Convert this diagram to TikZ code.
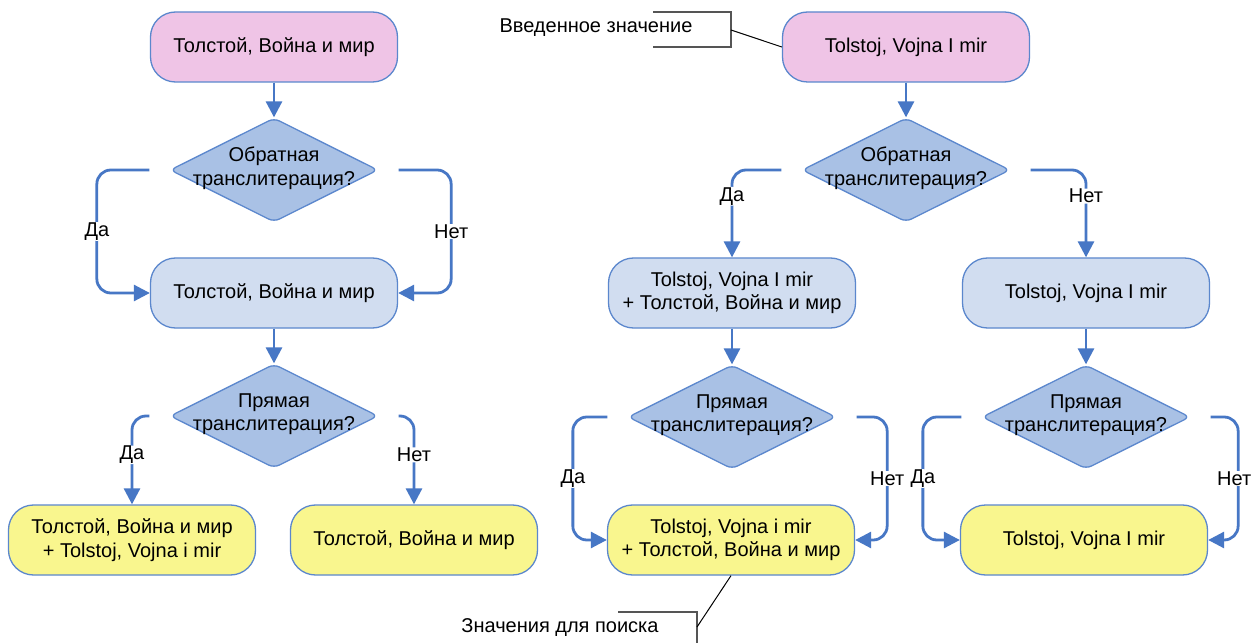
\documentclass[tikz,border=0pt]{standalone}
\usepackage{fontspec}
\setmainfont{Liberation Sans}
\usetikzlibrary{arrows.meta,shapes.geometric,calc}
\definecolor{pinkc}{HTML}{EFC4E6}
\definecolor{bordc}{HTML}{5B87CD}
\definecolor{lbluec}{HTML}{D1DDF0}
\definecolor{diac}{HTML}{A9C1E5}
\definecolor{yelc}{HTML}{F9F68E}
\definecolor{arrc}{HTML}{4777C5}
\definecolor{brc}{HTML}{555555}
\newcommand{\txtfont}{\fontsize{20bp}{23.5bp}\selectfont}
\begin{document}
\begin{tikzpicture}[x=1bp,y=-1bp,
  box/.style={rounded corners=25bp, draw=bordc, line width=1.3bp, minimum width=247bp, minimum height=70bp, inner sep=0pt, align=center, font=\txtfont},
  pinkbox/.style={box, fill=pinkc},
  bluebox/.style={box, fill=lbluec},
  yelbox/.style={box, fill=yelc},
  dia/.style={diamond, draw=bordc, fill=diac, line width=1.3bp, minimum width=208bp, minimum height=104bp, inner sep=0pt, rounded corners=6bp},
  diatext/.style={align=center, font=\txtfont, inner sep=0pt},
  conn/.style={draw=arrc, line width=2.8bp, -{Triangle[length=16bp,width=16bp]}, rounded corners=14bp},
  lab/.style={fill=white, inner sep=0.5bp, font=\txtfont},
  bracket/.style={draw=brc, line width=2bp},
  leader/.style={draw=black, line width=1bp},
  calltext/.style={font=\txtfont, inner sep=0pt}
]
\useasboundingbox[fill=white] (0,0) rectangle (1254,643);

% ---------- left flow ----------
\node[pinkbox] (b1) at (274,47) {Толстой, Война и мир};
\node[dia] (d1) at (274,170) {};
\node[diatext] (d1t) at (274,168) {Обратная\\транслитерация?};
\node[bluebox] (b2) at (274,293) {Толстой, Война и мир};
\node[dia] (d2) at (274,416) {};
\node[diatext] (d2t) at (274,414) {Прямая\\транслитерация?};
\node[yelbox] (b4) at (132,540) {Толстой, Война и мир\\+ Tolstoj, Vojna i mir};
\node[yelbox] (b5) at (414,540) {Толстой, Война и мир};

\draw[conn] (b1.south) -- (d1.north);
\draw[conn] ([xshift=-20bp]d1.west) -| node[lab, pos=0.75] {Да} ([xshift=-53bp]b2.west) -- (b2.west);
\draw[conn] ([xshift=20bp]d1.east) -| node[lab, pos=0.75] {Нет} ([xshift=53bp]b2.east) -- (b2.east);
\draw[conn] (b2.south) -- (d2.north);
\draw[conn] ([xshift=-20bp]d2.west) -| node[lab, pos=0.72] {Да} (b4.north);
\draw[conn] ([xshift=20bp]d2.east) -| node[lab, pos=0.72] {Нет} (b5.north);

% ---------- right flow ----------
\node[pinkbox] (p2) at (906,47) {Tolstoj, Vojna I mir};
\node[dia] (d3) at (906,170) {};
\node[diatext] (d3t) at (906,168) {Обратная\\транслитерация?};
\node[bluebox] (L2) at (732,293) {Tolstoj, Vojna I mir\\+ Толстой, Война и мир};
\node[bluebox] (R2) at (1086,293) {Tolstoj, Vojna I mir};
\node[dia] (d4) at (732,417) {};
\node[diatext] (d4t) at (732,415) {Прямая\\транслитерация?};
\node[dia] (d5) at (1086,417) {};
\node[diatext] (d5t) at (1086,415) {Прямая\\транслитерация?};
\node[yelbox] (L3) at (731,540) {Tolstoj, Vojna i mir\\+ Толстой, Война и мир};
\node[yelbox] (R3) at (1084,540) {Tolstoj, Vojna I mir};

\draw[conn] (p2.south) -- (d3.north);
\draw[conn] ([xshift=-20bp]d3.west) -| node[lab, pos=0.65] {Да} (L2.north);
\draw[conn] ([xshift=20bp]d3.east) -| node[lab, pos=0.65] {Нет} (R2.north);
\draw[conn] (L2.south) -- (d4.north);
\draw[conn] (R2.south) -- (d5.north);
\draw[conn] ([xshift=-20bp]d4.west) -| node[lab, pos=0.75] {Да} ([xshift=-34bp]L3.west) -- (L3.west);
\draw[conn] ([xshift=20bp]d4.east) -| node[lab, pos=0.75] {Нет} ([xshift=32bp]L3.east) -- (L3.east);
\draw[conn] ([xshift=-20bp]d5.west) -| node[lab, pos=0.75] {Да} ([xshift=-37bp]R3.west) -- (R3.west);
\draw[conn] ([xshift=20bp]d5.east) -| node[lab, pos=0.75, xshift=-4bp] {Нет} ([xshift=30bp]R3.east) -- (R3.east);

% ---------- callouts ----------
\node[calltext] (c1) at (596,28) {Введенное значение};
\draw[bracket] (653,12) -- (731,12) -- (731,47) -- (653,47);
\coordinate (c1k) at (731,30);
\draw[leader] (c1k) -- (p2.west);

\node[calltext] (c2) at (560,628) {Значения для поиска};
\draw[bracket] (618,612) -- (697,612) -- (697,643);
\coordinate (c2k) at (697,627);
\draw[leader] (c2k) -- (L3.south);
\end{tikzpicture}
\end{document}
